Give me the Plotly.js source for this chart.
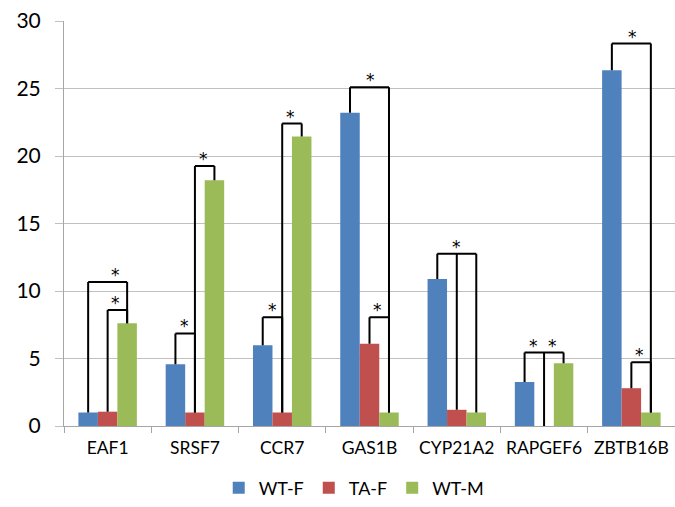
<!DOCTYPE html>
<html>
<head>
<meta charset="utf-8">
<script src="https://cdn.plot.ly/plotly-3.0.1.min.js"></script>
<style>html,body{margin:0;padding:0;background:#fff;}#chart{width:675px;height:507px;}</style>
</head>
<body>
<div id="chart"></div>
<script>
// ---- data ----
const categories = ["EAF1", "SRSF7", "CCR7", "GAS1B", "CYP21A2", "RAPGEF6", "ZBTB16B"];
const seriesNames = ["WT-F", "TA-F", "WT-M"];
const wtF = [1.0, 4.58, 5.98, 23.2, 10.88, 3.26, 26.35];
const taF = [1.06, 1.0, 1.0, 6.1, 1.2, 0.0, 2.8];
const wtM = [7.62, 18.2, 21.45, 1.0, 1.0, 4.65, 1.0];
const yTicks = [0, 5, 10, 15, 20, 25, 30];

// significance brackets: category index, series legs, bracket height, star positions (series units)
const bracketCat = [0, 0, 1, 1, 2, 2, 3, 3, 4, 5, 6, 6];
const bracketLegs = [[0,2],[1,2],[0,1],[1,2],[0,1],[1,2],[0,2],[1,2],[0,1,2],[0,1,2],[0,2],[1,2]];
const bracketHeight = [10.66, 8.6, 6.86, 19.26, 8.06, 22.4, 25.1, 8.06, 12.76, 5.44, 28.33, 4.73];
const bracketStars = [[1.38],[1.38],[0.45],[1.42],[0.48],[1.44],[1.03],[1.42],[1.0],[0.46,1.44],[1.05],[1.42]];

// ---- styling ----
const colors = ["#4F81BD", "#C0504D", "#9BBB59"];
const bargap = 0.33;
const FONT = "Lato, 'Liberation Sans', sans-serif";
const values = [wtF, taF, wtM];

const traces = values.map((v, k) => ({
  type: "bar",
  name: seriesNames[k],
  x: categories,
  y: v,
  marker: {color: colors[k]},
  hoverinfo: "none"
}));

const barW = (1 - bargap) / 3;
const legX = (cat, s) => cat + (s - 1) * barW;

const shapes = [];
const annotations = [];
bracketCat.forEach((c, i) => {
  const legs = bracketLegs[i];
  const h = bracketHeight[i];
  let path = "M" + legX(c, legs[0]) + "," + h + " L" + legX(c, legs[legs.length - 1]) + "," + h;
  legs.forEach(s => {
    path += " M" + legX(c, s) + "," + h + " L" + legX(c, s) + "," + values[s][c];
  });
  shapes.push({type: "path", xref: "x", yref: "y", path: path, line: {color: "#000", width: 2}, layer: "above"});
  bracketStars[i].forEach(sp => {
    annotations.push({
      xref: "x", yref: "y", x: legX(c, sp), y: h, text: "*", showarrow: false,
      yanchor: "bottom", yshift: -5, font: {family: "'DejaVu Sans', sans-serif", size: 17, color: "#000"}
    });
  });
});

const layout = {
  width: 675, height: 507,
  margin: {l: 64, r: 0, t: 21, b: 78},
  paper_bgcolor: "#fff", plot_bgcolor: "#fff",
  barmode: "group", bargap: bargap, bargroupgap: 0,
  font: {family: FONT, color: "#000"},
  showlegend: true,
  legend: {orientation: "h", x: 0.475, xanchor: "center", y: -0.153, yanchor: "middle",
           font: {family: FONT, size: 18, color: "#000"}, itemwidth: 30, traceorder: "normal"},
  xaxis: {
    type: "category", range: [-0.5, 6.5], showgrid: false, showline: true, linecolor: "#A6A6A6", linewidth: 1,
    ticks: "outside", tickson: "boundaries", ticklen: 6, tickcolor: "#A6A6A6",
    tickfont: {family: FONT, size: 17.5, color: "#000"}, ticklabelstandoff: 6
  },
  yaxis: {
    range: [0, 30], tickvals: yTicks, ticktext: yTicks.map(String),
    showgrid: true, gridcolor: "#C0C0C0", gridwidth: 1,
    showline: true, linecolor: "#A6A6A6", linewidth: 1, zeroline: false,
    ticks: "outside", ticklen: 8, tickcolor: "#C0C0C0",
    tickfont: {family: FONT, size: 21, color: "#000"}, ticklabelstandoff: 10
  },
  shapes: shapes,
  annotations: annotations
};

Plotly.newPlot("chart", traces, layout, {displayModeBar: false, staticPlot: true});
</script>
</body>
</html>
